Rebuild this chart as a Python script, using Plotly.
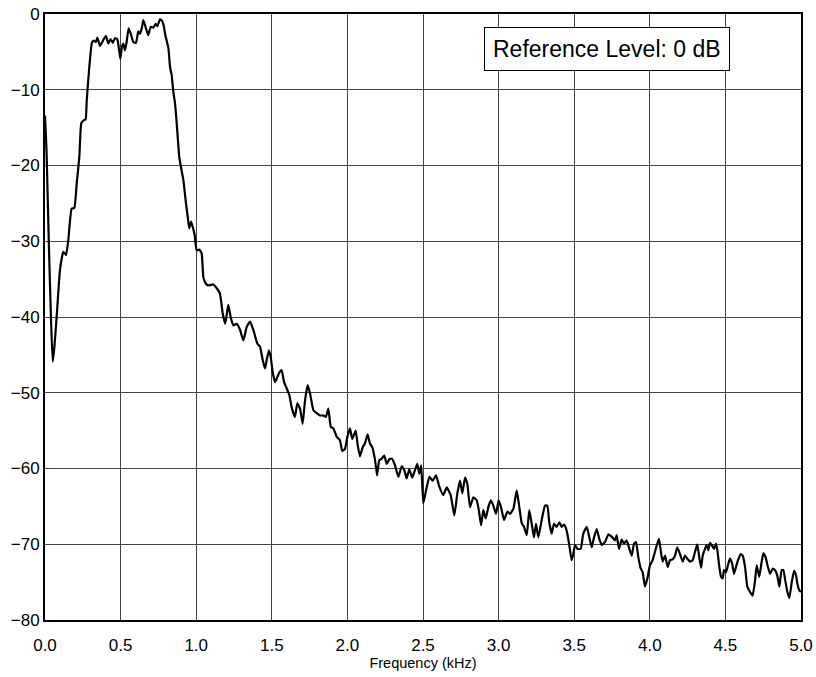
import plotly.graph_objects as go

freq_khz = [
    0.000, 0.010, 0.025, 0.040, 0.051, 0.062, 0.077, 0.099, 0.121, 0.139, 0.154, 0.176, 0.194, 0.210,
    0.227, 0.240, 0.258, 0.269, 0.276, 0.293, 0.309, 0.320, 0.337, 0.346, 0.364, 0.386, 0.403, 0.419,
    0.434, 0.448, 0.463, 0.478, 0.487, 0.498, 0.509, 0.518, 0.529, 0.540, 0.553, 0.567, 0.584, 0.602,
    0.617, 0.628, 0.640, 0.650, 0.668, 0.683, 0.699, 0.716, 0.732, 0.743, 0.761, 0.774, 0.787, 0.794,
    0.816, 0.827, 0.838, 0.849, 0.860, 0.871, 0.888, 0.899, 0.915, 0.930, 0.944, 0.954, 0.966, 0.977,
    0.990, 1.003, 1.021, 1.036, 1.047, 1.058, 1.075, 1.091, 1.113, 1.136, 1.157, 1.175, 1.192, 1.212,
    1.228, 1.245, 1.268, 1.290, 1.312, 1.334, 1.356, 1.378, 1.404, 1.422, 1.440, 1.455, 1.466, 1.481,
    1.493, 1.506, 1.521, 1.537, 1.550, 1.565, 1.581, 1.598, 1.616, 1.631, 1.653, 1.669, 1.687, 1.704,
    1.720, 1.737, 1.753, 1.775, 1.797, 1.819, 1.841, 1.858, 1.874, 1.890, 1.907, 1.929, 1.951, 1.966,
    1.984, 2.000, 2.017, 2.032, 2.055, 2.068, 2.083, 2.101, 2.116, 2.134, 2.149, 2.165, 2.183, 2.196,
    2.211, 2.227, 2.244, 2.260, 2.277, 2.295, 2.315, 2.337, 2.359, 2.376, 2.392, 2.409, 2.429, 2.447,
    2.462, 2.476, 2.488, 2.502, 2.520, 2.542, 2.564, 2.586, 2.608, 2.634, 2.657, 2.683, 2.707, 2.727,
    2.745, 2.760, 2.778, 2.793, 2.811, 2.833, 2.855, 2.870, 2.884, 2.899, 2.915, 2.932, 2.948, 2.965,
    2.983, 3.000, 3.016, 3.036, 3.058, 3.075, 3.098, 3.120, 3.137, 3.153, 3.168, 3.186, 3.203, 3.219,
    3.234, 3.247, 3.263, 3.285, 3.307, 3.322, 3.335, 3.351, 3.366, 3.384, 3.402, 3.417, 3.433, 3.450,
    3.466, 3.483, 3.494, 3.505, 3.521, 3.543, 3.560, 3.583, 3.600, 3.616, 3.631, 3.649, 3.666, 3.682,
    3.704, 3.726, 3.748, 3.770, 3.781, 3.796, 3.814, 3.829, 3.847, 3.862, 3.880, 3.896, 3.909, 3.924,
    3.940, 3.953, 3.968, 3.984, 4.001, 4.019, 4.034, 4.050, 4.061, 4.072, 4.085, 4.101, 4.118, 4.134,
    4.151, 4.167, 4.182, 4.200, 4.218, 4.233, 4.248, 4.266, 4.284, 4.299, 4.314, 4.327, 4.339, 4.350,
    4.365, 4.376, 4.387, 4.398, 4.409, 4.425, 4.438, 4.447, 4.460, 4.471, 4.482, 4.491, 4.504, 4.519,
    4.530, 4.544, 4.557, 4.570, 4.585, 4.601, 4.614, 4.630, 4.645, 4.663, 4.680, 4.696, 4.707, 4.724,
    4.740, 4.751, 4.766, 4.780, 4.795, 4.813, 4.828, 4.843, 4.857, 4.872, 4.883, 4.896, 4.910, 4.923,
    4.938, 4.954, 4.967, 4.978, 4.989, 5.000,
]

level_db = [
    -13.4, -18.0, -30.0, -40.5, -45.9, -44.0, -40.0, -33.8, -31.4, -31.8, -29.9, -25.7, -25.6, -22.3,
    -18.9, -14.4, -14.0, -13.9, -11.4, -7.0, -3.9, -3.5, -3.7, -3.1, -4.2, -3.4, -2.9, -3.9,
    -3.3, -3.8, -3.2, -3.3, -4.3, -5.9, -4.3, -3.9, -4.8, -3.7, -1.9, -2.6, -3.7, -3.8,
    -2.3, -2.6, -1.9, -0.8, -1.9, -2.8, -1.7, -1.8, -1.3, -1.6, -0.7, -0.9, -1.7, -2.6,
    -4.5, -7.0, -8.1, -10.3, -11.8, -14.4, -18.9, -20.2, -21.9, -24.6, -26.8, -28.3, -27.4, -28.1,
    -29.2, -31.2, -31.1, -31.6, -34.7, -35.4, -35.8, -35.8, -35.7, -36.2, -36.9, -39.5, -40.9, -38.4,
    -40.0, -41.1, -40.9, -41.7, -43.1, -41.3, -40.6, -41.7, -43.5, -43.9, -45.7, -46.8, -45.7, -44.4,
    -45.3, -47.3, -48.6, -47.9, -47.3, -47.0, -48.6, -49.4, -50.3, -51.9, -53.2, -51.4, -52.1, -54.1,
    -51.0, -49.0, -50.1, -52.3, -52.7, -53.0, -53.0, -53.2, -52.1, -54.5, -54.7, -55.8, -56.3, -57.7,
    -57.4, -55.8, -54.7, -56.1, -55.0, -56.9, -58.4, -57.2, -56.7, -55.5, -56.7, -57.2, -58.9, -60.9,
    -58.9, -58.7, -58.3, -59.4, -58.8, -58.7, -59.6, -61.1, -59.7, -60.2, -61.3, -60.1, -61.2, -60.2,
    -59.4, -60.7, -59.6, -64.6, -62.9, -61.1, -61.6, -60.9, -62.4, -63.5, -62.5, -63.5, -66.2, -63.3,
    -61.6, -63.3, -61.2, -62.0, -65.1, -63.8, -64.2, -65.6, -67.5, -65.5, -66.6, -65.1, -64.2, -64.9,
    -66.0, -64.2, -65.1, -66.8, -65.7, -66.0, -65.3, -62.9, -65.1, -67.2, -67.7, -68.8, -65.5, -67.3,
    -69.1, -67.3, -69.1, -66.8, -64.9, -64.9, -67.1, -68.6, -67.3, -67.7, -67.1, -67.7, -67.4, -68.2,
    -69.9, -72.1, -71.3, -70.1, -70.6, -70.6, -68.6, -67.7, -69.1, -70.4, -69.1, -68.0, -69.3, -70.1,
    -69.7, -68.7, -69.0, -69.5, -68.8, -70.6, -69.4, -69.9, -69.5, -70.4, -71.5, -69.9, -69.7, -71.7,
    -73.2, -73.7, -75.6, -74.5, -72.8, -72.1, -71.0, -69.9, -69.3, -70.8, -72.3, -71.5, -73.0, -72.1,
    -72.0, -71.5, -70.4, -71.3, -72.3, -71.5, -71.9, -72.3, -72.1, -71.0, -70.0, -71.7, -73.1, -71.5,
    -70.6, -70.1, -70.8, -69.8, -70.1, -70.6, -69.9, -70.8, -73.0, -74.3, -74.5, -73.4, -73.7, -72.6,
    -71.9, -72.5, -73.9, -73.0, -72.0, -71.3, -71.5, -73.0, -75.6, -76.3, -76.8, -74.8, -72.8, -74.3,
    -72.3, -71.2, -71.7, -72.9, -73.9, -73.2, -73.4, -74.1, -75.6, -73.4, -73.4, -74.8, -76.3, -77.1,
    -75.1, -73.5, -74.1, -75.4, -76.1, -76.3,
]

x_ticks = [0.0, 0.5, 1.0, 1.5, 2.0, 2.5, 3.0, 3.5, 4.0, 4.5, 5.0]
y_ticks = [0, -10, -20, -30, -40, -50, -60, -70, -80]
note_text = "Reference Level: 0 dB"

FONT = "Liberation Sans, Arial, sans-serif"

fig = go.Figure()
fig.add_trace(go.Scatter(
    x=freq_khz, y=level_db, mode="lines",
    line=dict(color="black", width=2.2, shape="spline", smoothing=0.4),
    hoverinfo="skip", showlegend=False,
))

fig.add_annotation(
    x=3.72, y=-4.6, xref="x", yref="y", text=note_text, showarrow=False,
    font=dict(family=FONT, size=23, color="black"),
    bgcolor="white", bordercolor="black", borderwidth=1, borderpad=8,
)

axis_font = dict(family=FONT, size=17, color="black")
fig.update_xaxes(
    range=[0, 5], tickvals=x_ticks, ticktext=[f"{v:.1f}" for v in x_ticks],
    showgrid=True, gridcolor="#444444", gridwidth=1, zeroline=False,
    showline=True, linecolor="black", linewidth=2, mirror=True,
    ticks="outside", ticklen=9, tickcolor="rgba(0,0,0,0)",
    tickfont=axis_font, automargin=False, ticklabeloverflow="allow",
    title=dict(text="Frequency (kHz)", font=dict(family=FONT, size=14.5, color="black"), standoff=2),
)
fig.update_yaxes(
    range=[-80, 0], tickvals=y_ticks,
    showgrid=True, gridcolor="#444444", gridwidth=1, zeroline=False,
    showline=True, linecolor="black", linewidth=2, mirror=True,
    ticks="", tickfont=axis_font, automargin=False, ticklabeloverflow="allow",
)
fig.update_layout(
    width=816, height=677,
    margin=dict(l=45, r=15, t=14, b=57, pad=0),
    paper_bgcolor="white", plot_bgcolor="white",
)
fig.write_html(
    "out.html",
    config={"displayModeBar": False},
    post_script="document.body.style.margin='0';document.body.style.overflow='hidden';",
)
